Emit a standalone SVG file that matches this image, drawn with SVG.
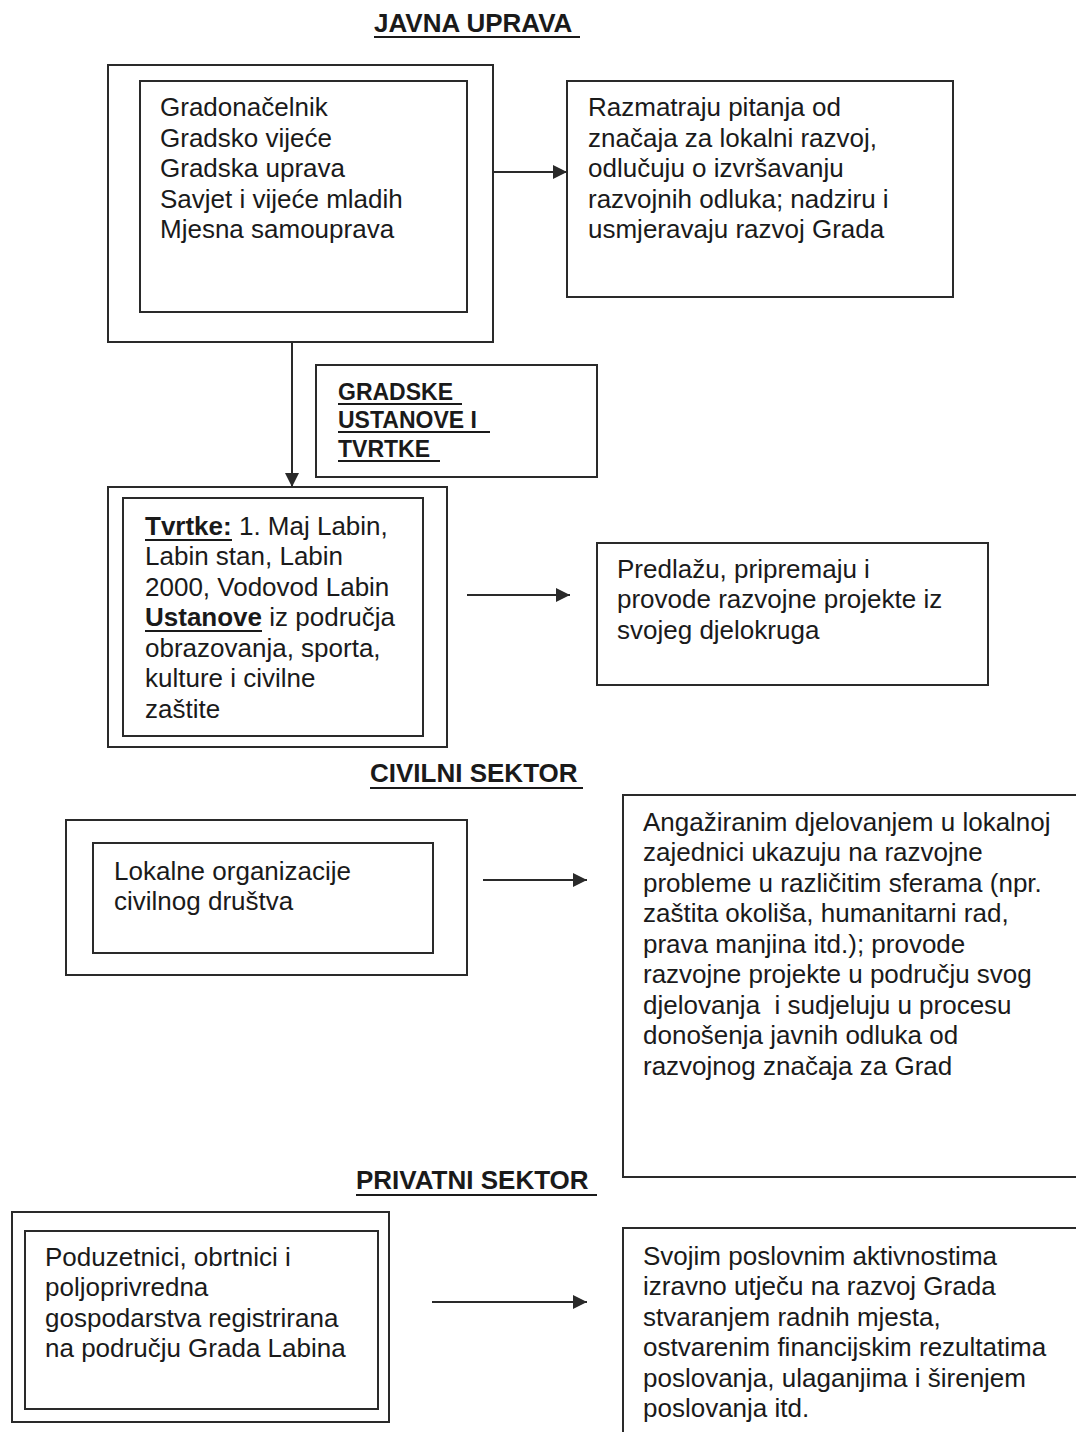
<svg xmlns="http://www.w3.org/2000/svg" width="1076" height="1432" viewBox="0 0 1076 1432">
<defs>
<style>
.box{fill:none;stroke:#2a2a2a;stroke-width:2}
.t{font-family:"Liberation Sans",Arial,sans-serif;font-size:26px;fill:#1a1a1a}
.h{font-family:"Liberation Sans",Arial,sans-serif;font-size:26px;font-weight:bold;fill:#1a1a1a}
.g{font-family:"Liberation Sans",Arial,sans-serif;font-size:23px;font-weight:bold;fill:#1a1a1a}
.ul{stroke:#1a1a1a;stroke-width:2}
.conn{stroke:#2a2a2a;stroke-width:2;fill:none}
</style>
<marker id="ah" viewBox="0 0 14 14" refX="14" refY="7" markerWidth="14" markerHeight="14" markerUnits="userSpaceOnUse" orient="auto">
<path d="M0,0 L14,7 L0,14 Z" fill="#2a2a2a"/>
</marker>
</defs>
<rect width="1076" height="1432" fill="#ffffff"/>

<g id="heading-javna">
<text class="h" x="374" y="32">JAVNA UPRAVA</text>
<line class="ul" x1="374" y1="37" x2="580" y2="37"/>
</g>

<g id="node-javna">
<rect class="box" x="108" y="65" width="385" height="277"/>
<rect class="box" x="140" y="81" width="327" height="231"/>
<text class="t" x="160" y="116">Gradonačelnik</text>
<text class="t" x="160" y="147">Gradsko vijeće</text>
<text class="t" x="160" y="177">Gradska uprava</text>
<text class="t" x="160" y="208">Savjet i vijeće mladih</text>
<text class="t" x="160" y="238">Mjesna samouprava</text>
</g>

<g id="node-javna-uloga">
<rect class="box" x="567" y="81" width="386" height="216"/>
<text class="t" x="588" y="116">Razmatraju pitanja od</text>
<text class="t" x="588" y="147">značaja za lokalni razvoj,</text>
<text class="t" x="588" y="177">odlučuju o izvršavanju</text>
<text class="t" x="588" y="208">razvojnih odluka; nadziru i</text>
<text class="t" x="588" y="238">usmjeravaju razvoj Grada</text>
</g>

<g id="node-gradske-label">
<rect class="box" x="316" y="365" width="281" height="112"/>
<text class="g" x="338" y="400">GRADSKE</text>
<line class="ul" x1="338" y1="404" x2="462" y2="404"/>
<text class="g" x="338" y="428">USTANOVE I</text>
<line class="ul" x1="338" y1="432" x2="490" y2="432"/>
<text class="g" x="338" y="457">TVRTKE</text>
<line class="ul" x1="338" y1="461" x2="440" y2="461"/>
</g>

<g id="node-tvrtke">
<rect class="box" x="108" y="487" width="339" height="260"/>
<rect class="box" x="123" y="498" width="300" height="238"/>
<text class="t" x="145" y="535"><tspan font-weight="bold">Tvrtke:</tspan> 1. Maj Labin,</text>
<line class="ul" x1="145" y1="540" x2="232" y2="540"/>
<text class="t" x="145" y="565">Labin stan, Labin</text>
<text class="t" x="145" y="596">2000, Vodovod Labin</text>
<text class="t" x="145" y="626"><tspan font-weight="bold">Ustanove</tspan> iz područja</text>
<line class="ul" x1="145" y1="631" x2="262" y2="631"/>
<text class="t" x="145" y="657">obrazovanja, sporta,</text>
<text class="t" x="145" y="687">kulture i civilne</text>
<text class="t" x="145" y="718">zaštite</text>
</g>

<g id="node-tvrtke-uloga">
<rect class="box" x="597" y="543" width="391" height="142"/>
<text class="t" x="617" y="578">Predlažu, pripremaju i</text>
<text class="t" x="617" y="608">provode razvojne projekte iz</text>
<text class="t" x="617" y="639">svojeg djelokruga</text>
</g>

<g id="heading-civilni">
<text class="h" x="370" y="782">CIVILNI SEKTOR</text>
<line class="ul" x1="370" y1="788" x2="583" y2="788"/>
</g>

<g id="node-civilni">
<rect class="box" x="66" y="820" width="401" height="155"/>
<rect class="box" x="93" y="843" width="340" height="110"/>
<text class="t" x="114" y="880">Lokalne organizacije</text>
<text class="t" x="114" y="910">civilnog društva</text>
</g>

<g id="node-civilni-uloga">
<rect class="box" x="623" y="795" width="470" height="382"/>
<text class="t" x="643" y="831">Angažiranim djelovanjem u lokalnoj</text>
<text class="t" x="643" y="861">zajednici ukazuju na razvojne</text>
<text class="t" x="643" y="892">probleme u različitim sferama (npr.</text>
<text class="t" x="643" y="922">zaštita okoliša, humanitarni rad,</text>
<text class="t" x="643" y="953">prava manjina itd.); provode</text>
<text class="t" x="643" y="983">razvojne projekte u području svog</text>
<text class="t" x="643" y="1014" xml:space="preserve">djelovanja  i sudjeluju u procesu</text>
<text class="t" x="643" y="1044">donošenja javnih odluka od</text>
<text class="t" x="643" y="1075">razvojnog značaja za Grad</text>
</g>

<g id="heading-privatni">
<text class="h" x="356" y="1189">PRIVATNI SEKTOR</text>
<line class="ul" x1="356" y1="1195" x2="597" y2="1195"/>
</g>

<g id="node-privatni">
<rect class="box" x="12" y="1212" width="377" height="210"/>
<rect class="box" x="25" y="1231" width="353" height="178"/>
<text class="t" x="45" y="1266">Poduzetnici, obrtnici i</text>
<text class="t" x="45" y="1296">poljoprivredna</text>
<text class="t" x="45" y="1327">gospodarstva registrirana</text>
<text class="t" x="45" y="1357">na području Grada Labina</text>
</g>

<g id="node-privatni-uloga">
<rect class="box" x="623" y="1228" width="470" height="230"/>
<text class="t" x="643" y="1265">Svojim poslovnim aktivnostima</text>
<text class="t" x="643" y="1295">izravno utječu na razvoj Grada</text>
<text class="t" x="643" y="1326">stvaranjem radnih mjesta,</text>
<text class="t" x="643" y="1356">ostvarenim financijskim rezultatima</text>
<text class="t" x="643" y="1387">poslovanja, ulaganjima i širenjem</text>
<text class="t" x="643" y="1417">poslovanja itd.</text>
</g>

<g id="connectors">
<line class="conn" x1="493" y1="172" x2="567" y2="172" marker-end="url(#ah)"/>
<line class="conn" x1="292" y1="342" x2="292" y2="487" marker-end="url(#ah)"/>
<line class="conn" x1="467" y1="595" x2="570" y2="595" marker-end="url(#ah)"/>
<line class="conn" x1="483" y1="880" x2="587" y2="880" marker-end="url(#ah)"/>
<line class="conn" x1="432" y1="1302" x2="587" y2="1302" marker-end="url(#ah)"/>
</g>
</svg>
